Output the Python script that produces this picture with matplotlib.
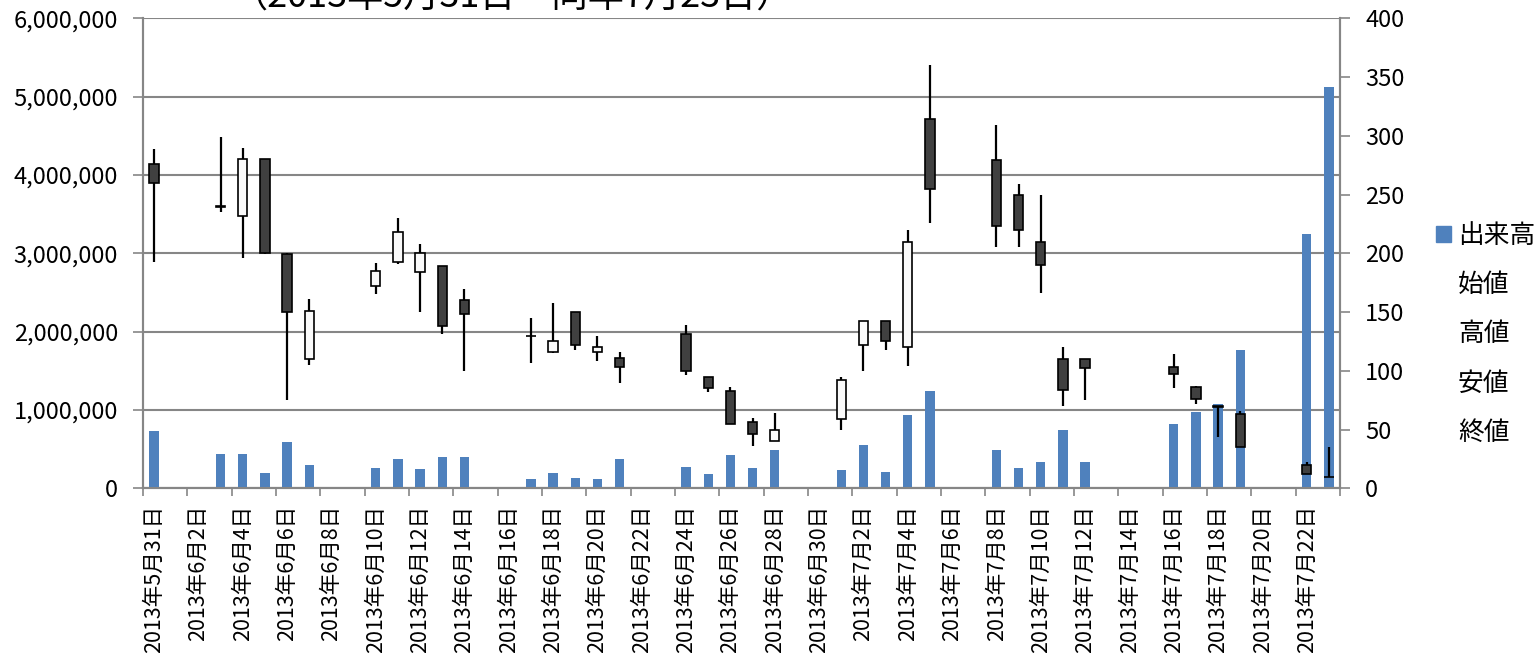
import numpy as np
import pandas as pd
import matplotlib
matplotlib.use("Agg")
import matplotlib.pyplot as plt
from matplotlib.patches import Patch
from matplotlib.lines import Line2D
from matplotlib.ticker import FuncFormatter

plt.rcParams['font.family'] = ['Noto Sans CJK JP', 'DejaVu Sans']

# -------------------------------
# Data (one slot per calendar day, nan = no trading)
# -------------------------------
dates = pd.date_range("2013-05-31", "2013-07-23", freq="D")
date_labels = [f"{d.year}年{d.month}月{d.day}日" for d in dates]

nan = np.nan
volume = [730000, nan, nan, 440000, 435000, 195000, 590000, 297000, nan, nan,
          260000, 370000, 240000, 396000, 404000, nan, nan, 123000, 190000, 128000,
          119000, 370000, nan, nan, 276000, 183000, 430000, 260000, 490000, nan,
          nan, 238000, 553000, 208000, 940000, 1246000, nan, nan, 490000, 260000,
          340000, 744000, 340000, nan, nan, nan, 825000, 970000, 1076000, 1766000,
          nan, nan, 3247000, 5120000]

open_ = [276, nan, nan, 240, 232, 280, 199, 110, nan, nan,
         172, 193, 184, 189, 160, nan, nan, 130, 116, 150,
         116, 111, nan, nan, 131, 95, 83, 56, 40, nan,
         nan, 59, 122, 142, 120, 314, nan, nan, 279, 250,
         210, 110, 110, nan, nan, nan, 103, 86, 70, 63,
         nan, nan, 20, 10]
high = [289, nan, nan, 299, 290, 280, 200, 161, nan, nan,
        192, 230, 208, 189, 170, nan, nan, 145, 158, 150,
        130, 116, nan, nan, 139, 95, 86, 60, 64, nan,
        nan, 95, 142, 142, 220, 360, nan, nan, 309, 259,
        250, 120, 110, nan, nan, nan, 114, 87, 70, 66,
        nan, nan, 22, 35]
low = [193, nan, nan, 235, 196, 199, 75, 105, nan, nan,
       165, 191, 150, 131, 100, nan, nan, 107, 115, 118,
       108, 90, nan, nan, 96, 82, 55, 36, 40, nan,
       nan, 50, 100, 118, 104, 226, nan, nan, 205, 205,
       166, 70, 75, nan, nan, nan, 85, 72, 44, 35,
       nan, nan, 12, 10]
close = [260, nan, nan, 239, 280, 200, 150, 151, nan, nan,
         185, 218, 200, 138, 148, nan, nan, 130, 125, 122,
         120, 103, nan, nan, 100, 85, 55, 46, 50, nan,
         nan, 92, 142, 125, 210, 255, nan, nan, 223, 220,
         190, 84, 102, nan, nan, nan, 97, 76, 69, 35,
         nan, nan, 12, 10]

# -------------------------------
# Figure
# -------------------------------
GRID = "#868686"
BLUE = "#4F81BD"
FS = 17

fig = plt.figure(figsize=(15.38, 6.61), dpi=100)
ax = fig.add_axes([0.093, 0.2613, 0.7783, 0.711])
ax2 = ax.twinx()

x = np.arange(len(dates))
vol = np.array(volume, dtype=float)
o = np.array(open_, dtype=float)
h = np.array(high, dtype=float)
l = np.array(low, dtype=float)
c = np.array(close, dtype=float)

# volume bars on the left axis
ax.bar(x, vol, width=0.42, color=BLUE, zorder=3)

# candlesticks on the right axis
ok = ~np.isnan(o)
ax2.vlines(x[ok], l[ok], h[ok], color="black", linewidth=1.6, zorder=2)
up = ok & (c > o)
down = ok & (c <= o)
ax2.bar(x[up], (c - o)[up], bottom=o[up], width=0.42,
        color="#FAFAFA", edgecolor="black", linewidth=1.2, zorder=3)
ax2.bar(x[down], (o - c)[down], bottom=c[down], width=0.42,
        color="#404040", edgecolor="black", linewidth=1.2, zorder=3)

# axes, ticks, grid
ax.set_xlim(-0.5, len(dates) - 0.5)
ax.set_ylim(0, 6000000)
ax.set_yticks(np.arange(0, 6000001, 1000000))
ax.yaxis.set_major_formatter(FuncFormatter(lambda v, p: f"{v:,.0f}"))
ax2.set_ylim(0, 400)
ax2.set_yticks(np.arange(0, 401, 50))

ax.set_xticks(np.arange(-0.5, len(dates), 2))
ax.set_xticklabels([])
ax.set_xticks(x[::2], minor=True)
ax.set_xticklabels(date_labels[::2], minor=True, rotation=90, fontsize=15.5)
ax.tick_params(axis="x", which="major", length=6, width=1.2, color=GRID, direction="out")
ax.tick_params(axis="x", which="minor", length=0, pad=12)
ax.tick_params(axis="y", length=7, width=1.2, color=GRID, labelsize=FS, pad=11)
ax2.tick_params(axis="y", length=7, width=1.2, color=GRID, labelsize=FS, pad=11)

ax.grid(axis="y", color=GRID, linewidth=1.5, zorder=0)
ax.set_axisbelow(True)
for a in (ax, ax2):
    a.spines["top"].set_visible(False)
    for s in ("left", "right", "bottom"):
        a.spines[s].set_color(GRID)
        a.spines[s].set_linewidth(1.5)

# title sits partly above the canvas
fig.text(0.333, 0.988, "（2013年5月31日～同年7月23日）", ha="center", va="baseline", fontsize=26)

# legend
handles = [Patch(facecolor=BLUE, edgecolor=BLUE)] + [Line2D([], [], linestyle="none")] * 4
labels = ["出来高", "始値", "高値", "安値", "終値"]
fig.legend(handles, labels, loc="center left", bbox_to_anchor=(0.9337, 0.494),
           frameon=False, fontsize=18.5, handlelength=0.58, handleheight=0.58,
           handletextpad=0.27, labelspacing=0.9, borderpad=0, borderaxespad=0)

fig.savefig("out.png", dpi=100)
